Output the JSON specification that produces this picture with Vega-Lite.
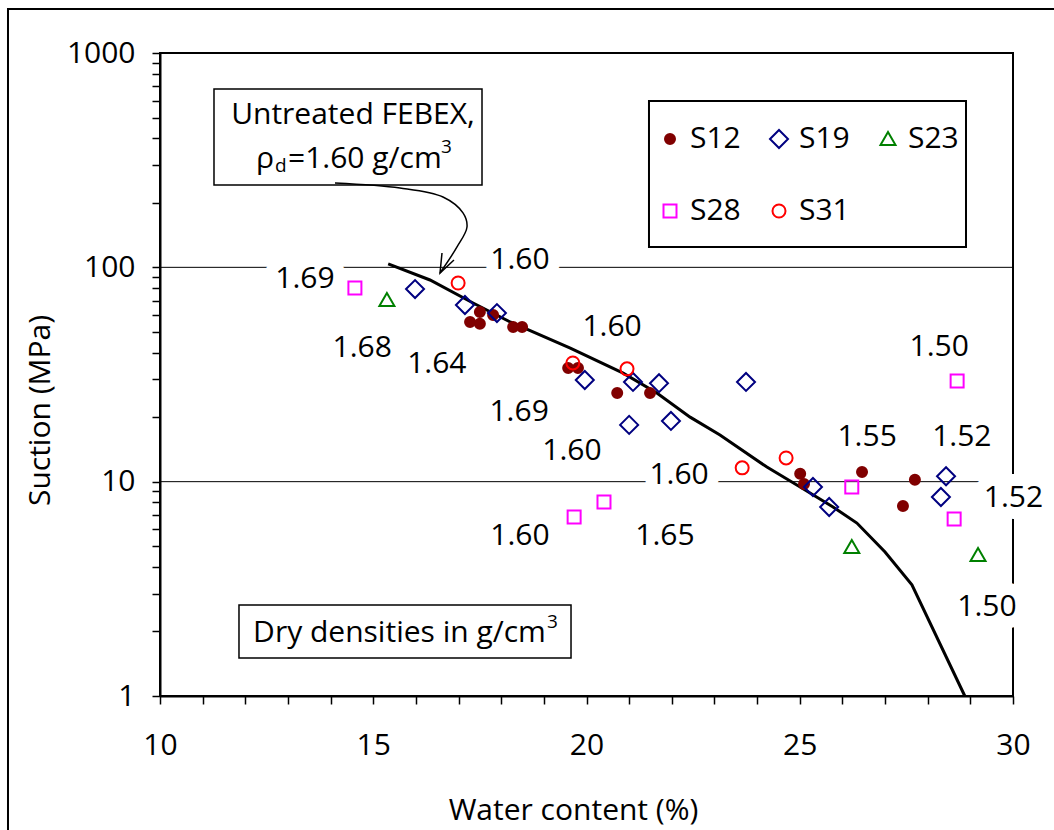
{
  "$schema": "https://vega.github.io/schema/vega-lite/v6.json",
  "autosize": {"type": "none"},
  "padding": {"left": 160, "top": 53, "right": 41, "bottom": 134},
  "width": 853,
  "height": 643,
  "background": "white",
  "config": {
    "font": "Open Sans",
    "view": {"stroke": "black", "strokeWidth": 2},
    "text": {"font": "Open Sans", "color": "black"}
  },
  "datasets": {
    "pts": [
      {"series": "S12", "w": 17.27, "s": 55.6}, {"series": "S12", "w": 17.5, "s": 61.9}, {"series": "S12", "w": 17.5, "s": 54.5},
      {"series": "S12", "w": 17.81, "s": 60.0}, {"series": "S12", "w": 18.28, "s": 52.7}, {"series": "S12", "w": 18.49, "s": 52.7},
      {"series": "S12", "w": 19.57, "s": 33.9}, {"series": "S12", "w": 19.8, "s": 33.9}, {"series": "S12", "w": 20.72, "s": 25.9},
      {"series": "S12", "w": 21.49, "s": 25.9}, {"series": "S12", "w": 25.01, "s": 10.9}, {"series": "S12", "w": 25.1, "s": 9.75},
      {"series": "S12", "w": 26.46, "s": 11.1}, {"series": "S12", "w": 27.7, "s": 10.2}, {"series": "S12", "w": 27.42, "s": 7.7},
      {"series": "S19", "w": 15.98, "s": 79.2}, {"series": "S19", "w": 17.15, "s": 66.7}, {"series": "S19", "w": 17.9, "s": 61.2},
      {"series": "S19", "w": 19.96, "s": 29.8}, {"series": "S19", "w": 21.09, "s": 29.2}, {"series": "S19", "w": 21.7, "s": 28.8},
      {"series": "S19", "w": 21.0, "s": 18.4}, {"series": "S19", "w": 21.98, "s": 19.2}, {"series": "S19", "w": 23.74, "s": 29.2},
      {"series": "S19", "w": 25.31, "s": 9.44}, {"series": "S19", "w": 25.69, "s": 7.62}, {"series": "S19", "w": 28.43, "s": 10.6},
      {"series": "S19", "w": 28.31, "s": 8.48},
      {"series": "S23", "w": 15.32, "s": 70.4}, {"series": "S23", "w": 26.22, "s": 4.96}, {"series": "S23", "w": 29.18, "s": 4.55},
      {"series": "S28", "w": 14.57, "s": 80.1}, {"series": "S28", "w": 19.71, "s": 6.84}, {"series": "S28", "w": 20.41, "s": 8.04},
      {"series": "S28", "w": 26.22, "s": 9.44}, {"series": "S28", "w": 28.69, "s": 29.5}, {"series": "S28", "w": 28.62, "s": 6.7},
      {"series": "S31", "w": 16.99, "s": 84.5}, {"series": "S31", "w": 19.68, "s": 35.8}, {"series": "S31", "w": 20.95, "s": 33.6},
      {"series": "S31", "w": 23.65, "s": 11.6}, {"series": "S31", "w": 24.68, "s": 12.9}
    ],
    "curve": [
      {"w": 15.35, "s": 103.7}, {"w": 16.33, "s": 87.3}, {"w": 17.34, "s": 68.2}, {"w": 18.21, "s": 55.6},
      {"w": 19.62, "s": 42.0}, {"w": 20.86, "s": 32.1}, {"w": 21.65, "s": 25.9}, {"w": 22.43, "s": 20.0},
      {"w": 23.13, "s": 16.5}, {"w": 24.23, "s": 11.7}, {"w": 25.01, "s": 9.44}, {"w": 25.78, "s": 7.62},
      {"w": 26.34, "s": 6.41}, {"w": 27.0, "s": 4.7}, {"w": 27.63, "s": 3.3}, {"w": 28.87, "s": 1.0}
    ],
    "labels": [
      {"t": "1.69", "w": 13.4, "s": 88.3}, {"t": "1.60", "w": 18.44, "s": 108}, {"t": "1.68", "w": 14.74, "s": 42.0},
      {"t": "1.64", "w": 16.49, "s": 35.4}, {"t": "1.69", "w": 18.42, "s": 21.1}, {"t": "1.60", "w": 20.6, "s": 52.7},
      {"t": "1.60", "w": 19.66, "s": 13.9}, {"t": "1.60", "w": 22.17, "s": 10.7}, {"t": "1.60", "w": 18.44, "s": 5.58},
      {"t": "1.65", "w": 21.84, "s": 5.58}, {"t": "1.55", "w": 26.58, "s": 16.2}, {"t": "1.52", "w": 28.8, "s": 16.2},
      {"t": "1.50", "w": 28.27, "s": 42.5}, {"t": "1.52", "w": 30.01, "s": 8.39}, {"t": "1.50", "w": 29.39, "s": 2.6}
    ],
    "boxes": [
      {"w": 11.266, "w2": 17.55, "s": 679, "s2": 242},
      {"w": 11.852, "w2": 19.637, "s": 2.659, "s2": 1.504}
    ],
    "legendbox": [
      {"w": 21.465, "w2": 28.898, "s": 597.3, "s2": 124.4}
    ],
    "frame": [{"w": 6.436, "w2": 31.5, "s": 1604, "s2": 0.2}],
    "grid": [{"s": 10}, {"s": 100}],
    "arrow": [
      {"o": 1, "w": 14.103, "s": 247.4}, {"o": 2, "w": 15.627, "s": 234.5}, {"o": 3, "w": 16.635, "s": 212.9},
      {"o": 4, "w": 17.104, "s": 179.4}, {"o": 5, "w": 17.198, "s": 154.3}, {"o": 6, "w": 16.964, "s": 124.5},
      {"o": 7, "w": 16.565, "s": 94.1}
    ],
    "head": [
      {"o": 1, "w": 16.612, "s": 116.7}, {"o": 2, "w": 16.565, "s": 94.1}, {"o": 3, "w": 16.893, "s": 108.2}
    ],
    "bigtext": [
      {"t": "Untreated FEBEX,", "w": 14.525, "s": 514},
      {"t": "Dry densities in g/cm", "w": 15.615, "s": 1.968}
    ],
    "leftbig": [
      {"t": "ρ", "w": 12.251, "s": 320.3},
      {"t": "=1.60 g/cm", "w": 13.001, "s": 320.3}
    ],
    "small": [
      {"t": "d", "w": 12.696, "s": 297},
      {"t": "3", "w": 16.589, "s": 364.4},
      {"t": "3", "w": 19.074, "s": 2.214}
    ]
  },
  "layer": [
    {
      "data": {"name": "frame"},
      "mark": {"type": "rect", "fill": null, "fillOpacity": 0, "stroke": "black", "strokeWidth": 2},
      "encoding": {
        "x": {"field": "w", "type": "quantitative"}, "x2": {"field": "w2"},
        "y": {"field": "s", "type": "quantitative"}, "y2": {"field": "s2"}
      }
    },
    {
      "data": {"name": "grid"},
      "mark": {"type": "rule", "color": "black", "strokeWidth": 1},
      "encoding": {"y": {"field": "s", "type": "quantitative"}}
    },
    {
      "data": {"name": "labels"},
      "mark": {"type": "text", "fontSize": 30, "fill": "white", "stroke": "white", "strokeWidth": 24, "strokeJoin": "round", "align": "center", "baseline": "middle"},
      "encoding": {
        "x": {"field": "w", "type": "quantitative"},
        "y": {"field": "s", "type": "quantitative"},
        "text": {"field": "t"}
      }
    },
    {
      "data": {"name": "boxes"},
      "mark": {"type": "rect", "fill": "white", "stroke": "black", "strokeWidth": 1.5},
      "encoding": {
        "x": {"field": "w", "type": "quantitative"}, "x2": {"field": "w2"},
        "y": {"field": "s", "type": "quantitative"}, "y2": {"field": "s2"}
      }
    },
    {
      "data": {"name": "legendbox"},
      "mark": {"type": "rect", "fill": "white", "stroke": "black", "strokeWidth": 2},
      "encoding": {
        "x": {"field": "w", "type": "quantitative"}, "x2": {"field": "w2"},
        "y": {"field": "s", "type": "quantitative"}, "y2": {"field": "s2"}
      }
    },
    {
      "data": {"name": "curve"},
      "mark": {"type": "line", "color": "black", "strokeWidth": 3},
      "encoding": {
        "x": {"field": "w", "type": "quantitative"},
        "y": {"field": "s", "type": "quantitative"}
      }
    },
    {
      "data": {"name": "arrow"},
      "mark": {"type": "line", "color": "black", "strokeWidth": 1.5, "interpolate": "catmull-rom"},
      "encoding": {
        "x": {"field": "w", "type": "quantitative"},
        "y": {"field": "s", "type": "quantitative"},
        "order": {"field": "o"}
      }
    },
    {
      "data": {"name": "head"},
      "mark": {"type": "line", "color": "black", "strokeWidth": 1.5},
      "encoding": {
        "x": {"field": "w", "type": "quantitative"},
        "y": {"field": "s", "type": "quantitative"},
        "order": {"field": "o"}
      }
    },
    {
      "data": {"name": "pts"},
      "mark": {"type": "point", "opacity": 1, "strokeWidth": 2, "size": 400},
      "encoding": {
        "x": {
          "field": "w", "type": "quantitative",
          "scale": {"domain": [10, 30], "nice": false, "zero": false},
          "axis": {
            "title": "Water content (%)",
            "values": [10,11,12,13,14,15,16,17,18,19,20,21,22,23,24,25,26,27,28,29,30],
            "labelExpr": "datum.value % 5 == 0 ? format(datum.value, 'd') : ''",
            "grid": false, "tickSize": 8, "tickWidth": 1.5, "tickColor": "black",
            "domainColor": "black", "domainWidth": 2,
            "labelFont": "Open Sans", "labelFontSize": 30, "labelColor": "black", "labelPadding": 26,
            "labelOverlap": false, "labelFlush": false, "labelBound": false,
            "titleFont": "Open Sans", "titleFontSize": 30, "titleFontWeight": "normal", "titleColor": "black",
            "titleX": 413, "titleY": 114, "titleBaseline": "middle", "titleAlign": "center"
          }
        },
        "y": {
          "field": "s", "type": "quantitative",
          "scale": {"type": "log", "domain": [1, 1000], "nice": false},
          "axis": {
            "title": "Suction (MPa)",
            "values": [1,2,3,4,5,6,7,8,9,10,20,30,40,50,60,70,80,90,100,200,300,400,500,600,700,800,900,1000],
            "labelExpr": "indexof([1,10,100,1000], datum.value) >= 0 ? format(datum.value, 'd') : ''",
            "grid": false, "tickSize": 8, "tickWidth": 1.5, "tickColor": "black",
            "domainColor": "black", "domainWidth": 2,
            "labelFont": "Open Sans", "labelFontSize": 30, "labelColor": "black", "labelPadding": 17,
            "labelOverlap": false, "labelBound": false,
            "titleFont": "Open Sans", "titleFontSize": 30, "titleFontWeight": "normal", "titleColor": "black",
            "titleX": -120, "titleY": 357, "titleBaseline": "middle", "titleAlign": "center", "titleAngle": -90
          }
        },
        "shape": {
          "field": "series", "type": "nominal", "title": null,
          "scale": {
            "domain": ["S12", "S28", "S19", "S31", "S23"],
            "range": [
              "M-0.5,0A0.5,0.5,0,1,1,0.5,0A0.5,0.5,0,1,1,-0.5,0Z",
              "M-0.65,-0.65L0.65,-0.65L0.65,0.65L-0.65,0.65Z",
              "M-0.9,0L0,-0.9L0.9,0L0,0.9Z",
              "M-0.65,0A0.65,0.65,0,1,1,0.65,0A0.65,0.65,0,1,1,-0.65,0Z",
              "M0,-0.7L0.75,0.6L-0.75,0.6Z"
            ]
          },
          "legend": {
            "orient": "none", "legendX": 472, "legendY": 48, "columns": 3, "title": null,
            "labelFont": "Open Sans", "labelFontSize": 30, "labelColor": "black", "labelOffset": 5,
            "padding": 23, "rowPadding": 42, "columnPadding": 23,
            "symbolSize": 400, "symbolStrokeWidth": 2
          }
        },
        "stroke": {
          "field": "series", "type": "nominal", "title": null,
          "scale": {"domain": ["S12", "S28", "S19", "S31", "S23"], "range": ["#800000", "#FF00FF", "#000080", "#FF0000", "#008000"]}
        },
        "fill": {
          "field": "series", "type": "nominal", "title": null,
          "scale": {"domain": ["S12", "S28", "S19", "S31", "S23"], "range": ["#800000", "transparent", "transparent", "transparent", "transparent"]}
        }
      }
    },
    {
      "data": {"name": "labels"},
      "mark": {"type": "text", "fontSize": 30, "align": "center", "baseline": "middle", "color": "black"},
      "encoding": {
        "x": {"field": "w", "type": "quantitative"},
        "y": {"field": "s", "type": "quantitative"},
        "text": {"field": "t"}
      }
    },
    {
      "data": {"name": "bigtext"},
      "mark": {"type": "text", "fontSize": 30, "align": "center", "baseline": "middle", "color": "black"},
      "encoding": {
        "x": {"field": "w", "type": "quantitative"},
        "y": {"field": "s", "type": "quantitative"},
        "text": {"field": "t"}
      }
    },
    {
      "data": {"name": "leftbig"},
      "mark": {"type": "text", "fontSize": 30, "align": "left", "baseline": "middle", "color": "black"},
      "encoding": {
        "x": {"field": "w", "type": "quantitative"},
        "y": {"field": "s", "type": "quantitative"},
        "text": {"field": "t"}
      }
    },
    {
      "data": {"name": "small"},
      "mark": {"type": "text", "fontSize": 19, "align": "left", "baseline": "middle", "color": "black"},
      "encoding": {
        "x": {"field": "w", "type": "quantitative"},
        "y": {"field": "s", "type": "quantitative"},
        "text": {"field": "t"}
      }
    }
  ]
}
